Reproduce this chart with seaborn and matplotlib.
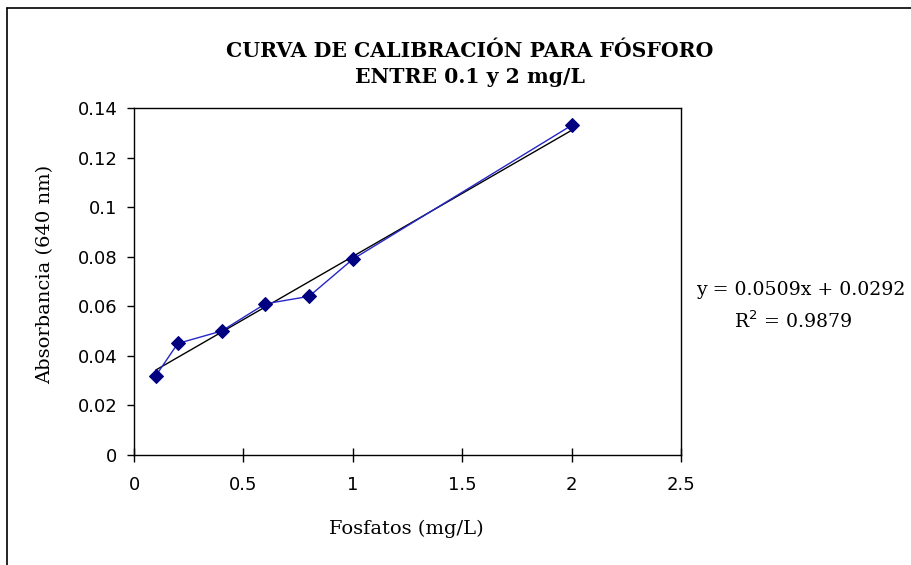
import numpy as np
import pandas as pd
import matplotlib
matplotlib.use("Agg")
import matplotlib.pyplot as plt
import seaborn as sns
from matplotlib.lines import Line2D

# Calibration data (phosphate standards)
fosfatos = [0.1, 0.2, 0.4, 0.6, 0.8, 1.0, 2.0]
absorbancia = [0.032, 0.045, 0.050, 0.061, 0.064, 0.079, 0.133]
x_ticks = [0, 0.5, 1, 1.5, 2, 2.5]
y_ticks = [0, 0.02, 0.04, 0.06, 0.08, 0.1, 0.12, 0.14]
x_tick_labels = ["0", "0.5", "1", "1.5", "2", "2.5"]
y_tick_labels = ["0", "0.02", "0.04", "0.06", "0.08", "0.1", "0.12", "0.14"]

df = pd.DataFrame({"Fosfatos": fosfatos, "Absorbancia": absorbancia})

sns.set_style("white")
plt.rcParams.update({"text.color": "black", "xtick.color": "black",
                     "ytick.color": "black", "axes.labelcolor": "black"})
serif = ["DejaVu Serif"]
sans = ["DejaVu Sans"]

W, H = 912, 565
fig = plt.figure(figsize=(W / 100, H / 100), dpi=100)
ax = fig.add_axes([134 / W, 1 - 455 / H, (681 - 134) / W, (455 - 108) / H])

# linear trend line fitted by seaborn
sns.regplot(data=df, x="Fosfatos", y="Absorbancia", ax=ax, scatter=False,
            ci=None, truncate=True, color="black", line_kws={"linewidth": 1.0})
sns.lineplot(data=df, x="Fosfatos", y="Absorbancia", ax=ax, color="#2626c8",
             linewidth=1.0, marker="D", markersize=7.5, markerfacecolor="#000080",
             markeredgecolor="#000080")

ax.set_xlim(0, 2.5)
ax.set_ylim(0, 0.14)
ax.set_xticks(x_ticks)
ax.set_xticklabels(x_tick_labels)
ax.set_yticks(y_ticks)
ax.set_yticklabels(y_tick_labels)
ax.tick_params(axis="y", direction="out", length=5, width=1, colors="black",
               labelsize=13, left=True, pad=7)
ax.tick_params(axis="x", direction="inout", length=10, width=1, colors="black",
               labelsize=13, bottom=True, pad=10)
for lab in ax.get_xticklabels() + ax.get_yticklabels():
    lab.set_family(sans)
for s in ax.spines.values():
    s.set_color("black")
    s.set_linewidth(1.0)

ax.set_xlabel("")
ax.set_ylabel("")
fig.text(406 / W, 1 - 529 / H, "Fosfatos (mg/L)", family=serif, fontsize=14,
         ha="center", va="center", color="black")
fig.text(45 / W, 1 - 274 / H, "Absorbancia (640 nm)", family=serif, fontsize=14,
         ha="center", va="center", rotation=90, color="black")

fig.text(470 / W, 1 - 57 / H, "CURVA DE CALIBRACIÓN PARA FÓSFORO", family=serif,
         fontsize=14.7, fontweight="bold", ha="center", va="baseline", color="black")
fig.text(470 / W, 1 - 83 / H, "ENTRE 0.1 y 2 mg/L", family=serif,
         fontsize=14.7, fontweight="bold", ha="center", va="baseline", color="black")

fig.text(801 / W, 1 - 295 / H, "y = 0.0509x + 0.0292", family=serif, fontsize=13.6,
         ha="center", va="baseline", color="black")
fig.text(793 / W, 1 - 328 / H, "R$^{2}$ = 0.9879", family=serif, fontsize=13.6,
         ha="center", va="baseline", color="black")

# outer chart frame (cut off at right and bottom)
fig.add_artist(Line2D([7.5 / W, 7.5 / W], [0, 1 - 7.5 / H], color="black",
                      linewidth=1.2, transform=fig.transFigure))
fig.add_artist(Line2D([7.5 / W, 1], [1 - 7.5 / H, 1 - 7.5 / H], color="black",
                      linewidth=1.2, transform=fig.transFigure))

fig.savefig("out.png", dpi=100)
